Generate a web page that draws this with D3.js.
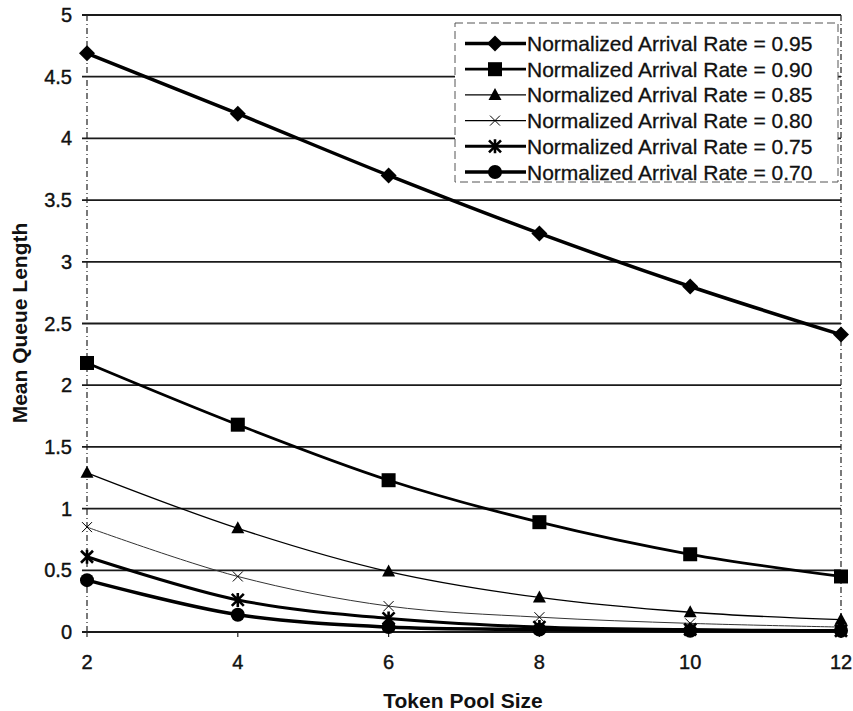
<!DOCTYPE html>
<html>
    <head>
        <meta charset="UTF-8">
        <title>queue length</title>
        <style type="text/css">
            body {
                margin: 0;
                background: #ffffff;
                font-family: "Liberation Sans", Arial, sans-serif;
            }
            .tick-label {
                font-size: 20px;
                fill: #111;
                stroke: #111;
                stroke-width: 0.4px;
            }
            .title {
                font-size: 21px;
                font-weight: bold;
                fill: #111;
            }
            .legend-label {
                font-size: 21px;
                fill: #111;
                stroke: #111;
                stroke-width: 0.3px;
            }
        </style>
        <script src="https://d3js.org/d3.v7.min.js"></script>
    </head>
    <body>
        <div id="plot"></div>
        <script>
            // data
            const pool_sizes = [2, 4, 6, 8, 10, 12];
            const rate_labels = ["0.95", "0.90", "0.85", "0.80", "0.75", "0.70"];
            const q095 = [4.69, 4.20, 3.70, 3.23, 2.80, 2.41];
            const q090 = [2.18, 1.68, 1.23, 0.89, 0.63, 0.45];
            const q085 = [1.29, 0.84, 0.49, 0.28, 0.16, 0.10];
            const q080 = [0.85, 0.45, 0.21, 0.12, 0.07, 0.04];
            const q075 = [0.61, 0.26, 0.11, 0.04, 0.02, 0.01];
            const q070 = [0.42, 0.14, 0.04, 0.02, 0.01, 0.01];
            const y_ticks = [0, 0.5, 1, 1.5, 2, 2.5, 3, 3.5, 4, 4.5, 5];

            const W = 853, H = 711;
            const plot_left = 87, plot_right = 841, plot_top = 15, plot_bottom = 632;

            const series = [
                { label: rate_labels[0], values: q095, marker: "diamond",  lw: 3.5 },
                { label: rate_labels[1], values: q090, marker: "square",   lw: 2.8 },
                { label: rate_labels[2], values: q085, marker: "triangle", lw: 1.3 },
                { label: rate_labels[3], values: q080, marker: "cross",    lw: 1.0 },
                { label: rate_labels[4], values: q075, marker: "asterisk", lw: 3.0 },
                { label: rate_labels[5], values: q070, marker: "circle",   lw: 3.5 },
            ];

            const svg = d3.select("#plot")
                .append("svg")
                .attr("width", W)
                .attr("height", H);

            const x = d3.scaleLinear().domain([2, 12]).range([plot_left, plot_right]);
            const y = d3.scaleLinear().domain([0, 5]).range([plot_bottom, plot_top]);

            // horizontal grid lines + left ticks
            svg.append("g")
                .selectAll("line")
                .data(y_ticks)
                .join("line")
                .attr("x1", plot_left - 5)
                .attr("x2", plot_right)
                .attr("y1", d => y(d))
                .attr("y2", d => y(d))
                .attr("stroke", "#1a1a1a")
                .attr("stroke-width", 1.8);

            // dotted side borders
            [plot_left, plot_right].forEach(px => {
                svg.append("line")
                    .attr("x1", px).attr("x2", px)
                    .attr("y1", plot_top).attr("y2", plot_bottom)
                    .attr("stroke", "#222")
                    .attr("stroke-width", 1.2)
                    .attr("stroke-dasharray", "6,3,1,3");
            });

            // x tick marks
            svg.append("g")
                .selectAll("line")
                .data(pool_sizes)
                .join("line")
                .attr("x1", d => x(d)).attr("x2", d => x(d))
                .attr("y1", plot_bottom).attr("y2", plot_bottom + 5)
                .attr("stroke", "#222")
                .attr("stroke-width", 1.2);

            // tick labels
            svg.append("g")
                .selectAll("text")
                .data(y_ticks)
                .join("text")
                .attr("class", "tick-label")
                .attr("x", 72)
                .attr("y", d => y(d) + 7)
                .attr("text-anchor", "end")
                .text(d => d);

            svg.append("g")
                .selectAll("text")
                .data(pool_sizes)
                .join("text")
                .attr("class", "tick-label")
                .attr("x", d => x(d))
                .attr("y", 669)
                .attr("text-anchor", "middle")
                .text(d => d);

            svg.append("text")
                .attr("class", "title")
                .attr("x", 463)
                .attr("y", 708)
                .attr("text-anchor", "middle")
                .text("Token Pool Size");

            svg.append("text")
                .attr("class", "title")
                .attr("transform", "translate(27, 323) rotate(-90)")
                .attr("text-anchor", "middle")
                .text("Mean Queue Length");

            function draw_marker(g, kind, cx, cy) {
                if (kind === "diamond") {
                    g.append("path")
                        .attr("d", `M${cx},${cy-8} L${cx+8},${cy} L${cx},${cy+8} L${cx-8},${cy} Z`)
                        .attr("fill", "#000");
                } else if (kind === "square") {
                    g.append("rect")
                        .attr("x", cx - 7).attr("y", cy - 7)
                        .attr("width", 14).attr("height", 14)
                        .attr("fill", "#000");
                } else if (kind === "triangle") {
                    g.append("path")
                        .attr("d", `M${cx},${cy-7} L${cx+6.5},${cy+5} L${cx-6.5},${cy+5} Z`)
                        .attr("fill", "#000");
                } else if (kind === "cross") {
                    g.append("path")
                        .attr("d", `M${cx-5},${cy-5} L${cx+5},${cy+5} M${cx-5},${cy+5} L${cx+5},${cy-5}`)
                        .attr("stroke", "#000")
                        .attr("stroke-width", 1);
                } else if (kind === "asterisk") {
                    g.append("path")
                        .attr("d", `M${cx-6},${cy-6} L${cx+6},${cy+6} M${cx-6},${cy+6} L${cx+6},${cy-6} M${cx},${cy-7} L${cx},${cy+7}`)
                        .attr("stroke", "#000")
                        .attr("stroke-width", 2.6);
                } else if (kind === "circle") {
                    g.append("circle")
                        .attr("cx", cx).attr("cy", cy).attr("r", 7)
                        .attr("fill", "#000");
                }
            }

            const line = d3.line()
                .x(d => x(d[0]))
                .y(d => y(d[1]))
                .curve(d3.curveCatmullRom.alpha(0.5));

            series.forEach(s => {
                const pts = pool_sizes.map((p, i) => [p, s.values[i]]);
                const g = svg.append("g");
                g.append("path")
                    .datum(pts)
                    .attr("d", line)
                    .attr("fill", "none")
                    .attr("stroke", s.marker === "cross" ? "#333" : "#000")
                    .attr("stroke-width", s.lw);
                pts.forEach(p => draw_marker(g, s.marker, x(p[0]), y(p[1])));
            });

            // legend
            const lg = svg.append("g");
            lg.append("rect")
                .attr("x", 455).attr("y", 23)
                .attr("width", 383).attr("height", 159)
                .attr("fill", "#fff")
                .attr("stroke", "#555")
                .attr("stroke-width", 1)
                .attr("stroke-dasharray", "8,4");

            series.forEach((s, i) => {
                const cy = 43.5 + i * 25.7;
                lg.append("line")
                    .attr("x1", 465).attr("x2", 526)
                    .attr("y1", cy).attr("y2", cy)
                    .attr("stroke", "#000")
                    .attr("stroke-width", Math.max(s.lw, 1.2));
                draw_marker(lg, s.marker, 495, cy);
                lg.append("text")
                    .attr("class", "legend-label")
                    .attr("x", 527)
                    .attr("y", cy + 7.5)
                    .text("Normalized Arrival Rate = " + s.label);
            });
        </script>
    </body>
</html>
